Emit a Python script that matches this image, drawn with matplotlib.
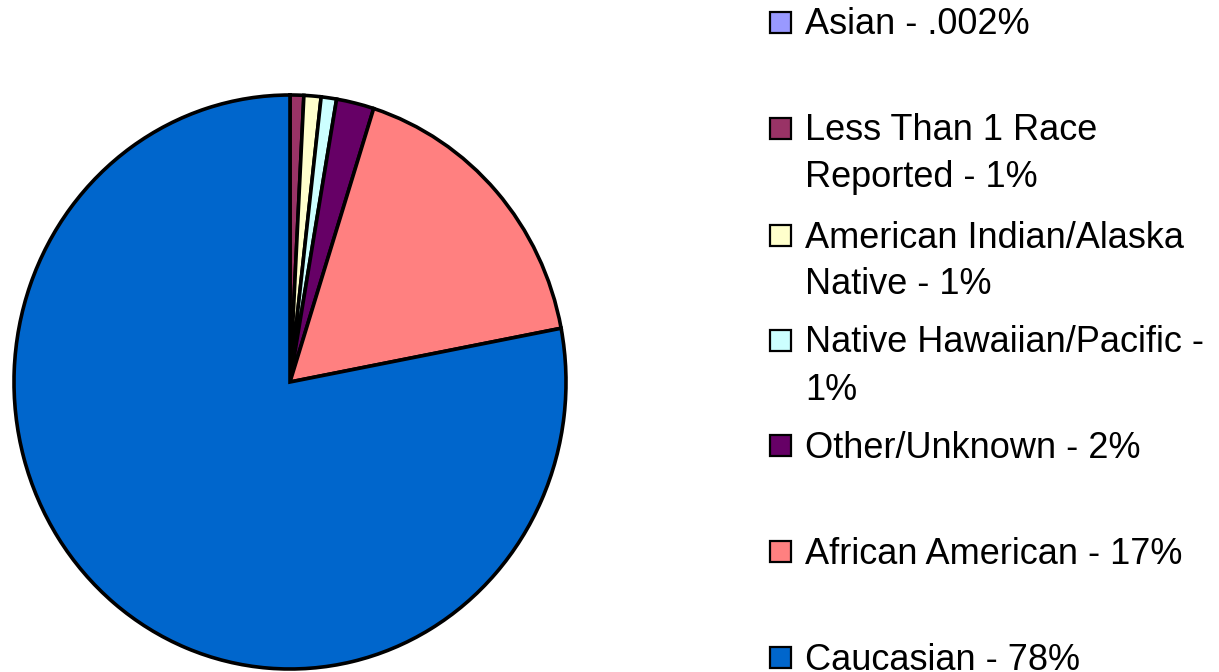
import matplotlib.pyplot as plt
from matplotlib.patches import Rectangle

# slices, clockwise from the top
labels = ["Asian - .002%",
          "Less Than 1 Race\nReported - 1%",
          "American Indian/Alaska\nNative - 1%",
          "Native Hawaiian/Pacific -\n1%",
          "Other/Unknown - 2%",
          "African American - 17%",
          "Caucasian - 78%"]
values = [0.002, 0.8, 1.0, 0.9, 2.2, 17.1, 78.0]
colors = ["#9999FF", "#993366", "#FFFFCC", "#CCFFFF", "#660066", "#FF8080", "#0066CC"]

W, H = 1219, 672
fig = plt.figure(figsize=(W / 100, H / 100), dpi=100)
plt.rcParams['font.family'] = ['Liberation Sans', 'DejaVu Sans']

# pie is slightly wider than tall in the original, so no equal aspect
ax = fig.add_axes([14 / W, 3 / H, 552 / W, 574 / H])
ax.pie(values, colors=colors, startangle=90, counterclock=False,
       wedgeprops=dict(edgecolor="black", linewidth=2.6))
ax.set_aspect('auto')
ax.set_xlim(-1.0, 1.0)
ax.set_ylim(-1.0, 1.0)
ax.axis("off")

# hand-made legend on the right
legend_y = [22, 128, 235, 340, 445, 551, 657]
for lab, col, yc in zip(labels, colors, legend_y):
    fig.add_artist(Rectangle((770 / W, 1 - (yc + 11) / H), 21 / W, 21 / H,
                             facecolor=col, edgecolor="black", linewidth=1.6,
                             transform=fig.transFigure))
    for j, line in enumerate(lab.split("\n")):
        fig.text(805 / W, 1 - (yc + 3 + j * 47) / H, line, fontsize=26,
                 va="center", ha="left", color="black")

fig.savefig("out.png", dpi=100)
